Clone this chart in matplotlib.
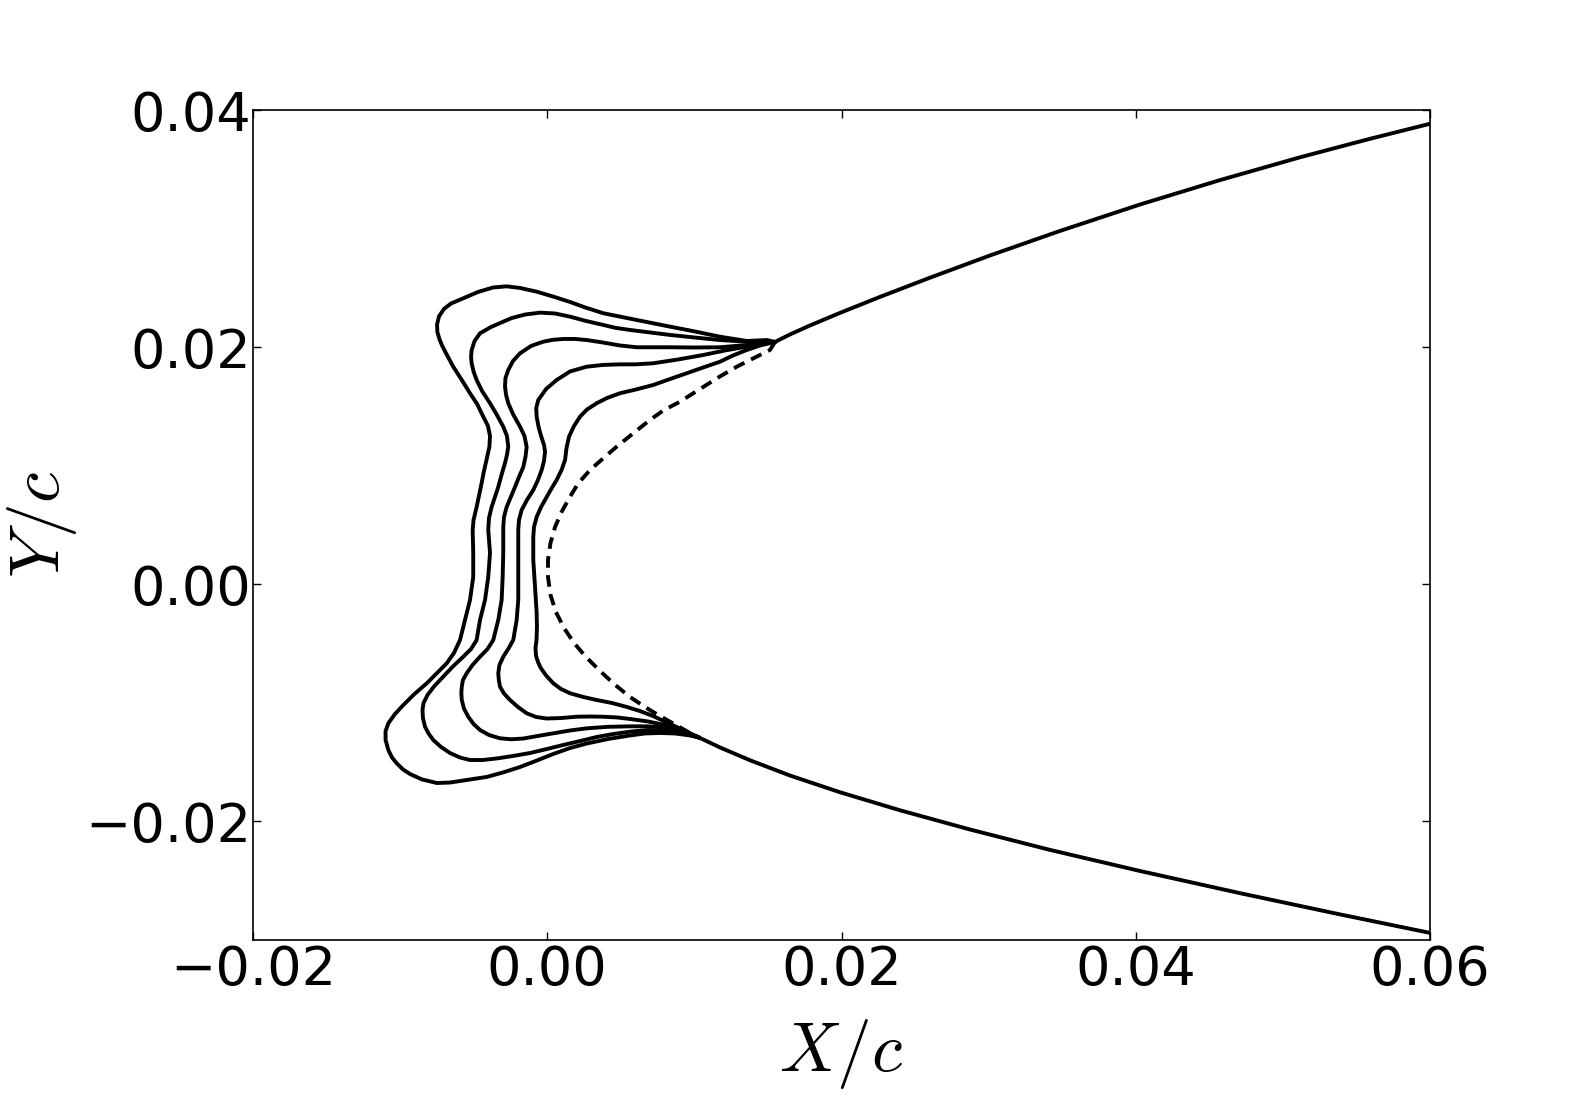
"""Ice accretion shapes on the leading edge, X/c vs Y/c."""

import matplotlib
matplotlib.use("Agg")
import matplotlib.pyplot as plt

plt.rcParams["mathtext.fontset"] = "cm"

# clean airfoil, solid part downstream of the iced region
UPPER_X = [0.01548, 0.01650, 0.01786, 0.01990, 0.02262, 0.02602, 0.03009, 0.03485,
           0.04029, 0.04573, 0.05116, 0.05592, 0.060]
UPPER_Y = [0.02044, 0.02107, 0.02183, 0.02289, 0.02424, 0.02586, 0.02773, 0.02980,
           0.03203, 0.03409, 0.03601, 0.03757, 0.03884]
LOWER_X = [0.01031, 0.01174, 0.01378, 0.01650, 0.01990, 0.02398, 0.02873, 0.03417,
           0.04029, 0.04709, 0.05388, 0.060]
LOWER_Y = [-0.01292, -0.01376, -0.01484, -0.01613, -0.01754, -0.01906, -0.02068, -0.02240,
           -0.02418, -0.02605, -0.02784, -0.02940]

# clean leading edge (dashed)
CLEAN_X = [0.01548, 0.01514, 0.01401, 0.01288, 0.01174, 0.01038, 0.00902, 0.00789, 0.00698,
           0.00585, 0.00472, 0.00381, 0.00291, 0.00211, 0.00155, 0.00098, 0.00053, 0.00022,
           0.00005, 0.00005, 0.00022, 0.00059, 0.00114, 0.00182, 0.00263, 0.00359, 0.00454,
           0.00562, 0.00664, 0.00766, 0.00875, 0.00970, 0.01031]
CLEAN_Y = [0.02044, 0.01976, 0.01906, 0.01835, 0.01753, 0.01647, 0.01540, 0.01466, 0.01386,
           0.01274, 0.01161, 0.01063, 0.00964, 0.00852, 0.00739, 0.00612, 0.00483, 0.00348,
           0.00205, 0.00062, -0.00090, -0.00234, -0.00369, -0.00495, -0.00613, -0.00731,
           -0.00841, -0.00950, -0.01035, -0.01111, -0.01187, -0.01254, -0.01292]

# ice shapes, largest (1) to smallest (5)
ICE1_X = [0.01548, 0.01494, 0.01356, 0.01174, 0.01004, 0.00834, 0.00608, 0.00381, 0.00257,
          0.00155, 0.00039, -0.00072, -0.00185, -0.00276, -0.00369, -0.00471, -0.00571,
          -0.00654, -0.00702, -0.00736, -0.00749, -0.00747, -0.00732, -0.00712, -0.00678,
          -0.00639, -0.00583, -0.00525, -0.00477, -0.00435, -0.00403, -0.00389, -0.00393,
          -0.00410, -0.00430, -0.00446, -0.00480, -0.00501, -0.00507, -0.00503, -0.00503,
          -0.00525, -0.00559, -0.00593, -0.00634, -0.00683, -0.00749, -0.00819, -0.00906,
          -0.00978, -0.01035, -0.01080, -0.01099, -0.01099, -0.01080, -0.01055, -0.01023,
          -0.00980, -0.00933, -0.00851, -0.00751, -0.00661, -0.00571, -0.00412, -0.00301,
          -0.00185, -0.00070, 0.00041, 0.00155, 0.00268, 0.00413, 0.00562, 0.00664, 0.00766,
          0.00868, 0.00970, 0.01031]
ICE1_Y = [0.02044, 0.02060, 0.02052, 0.02088, 0.02132, 0.02173, 0.02229, 0.02286, 0.02335,
          0.02381, 0.02427, 0.02468, 0.02499, 0.02513, 0.02503, 0.02465, 0.02412, 0.02368,
          0.02322, 0.02259, 0.02191, 0.02128, 0.02065, 0.02006, 0.01925, 0.01835, 0.01727,
          0.01611, 0.01521, 0.01414, 0.01335, 0.01251, 0.01161, 0.01065, 0.00956, 0.00854,
          0.00652, 0.00542, 0.00458, 0.00264, 0.00062, -0.00132, -0.00301, -0.00470,
          -0.00579, -0.00666, -0.00748, -0.00835, -0.00929, -0.01018, -0.01094, -0.01172,
          -0.01237, -0.01313, -0.01398, -0.01461, -0.01510, -0.01562, -0.01600, -0.01646,
          -0.01676, -0.01672, -0.01655, -0.01625, -0.01587, -0.01541, -0.01486, -0.01431,
          -0.01381, -0.01343, -0.01305, -0.01275, -0.01258, -0.01254, -0.01258, -0.01275,
          -0.01292]

ICE2_X = [0.01548, 0.01356, 0.01174, 0.01004, 0.00834, 0.00698, 0.00562, 0.00467, 0.00381,
          0.00263, 0.00155, 0.00053, -0.00049, -0.00151, -0.00240, -0.00299, -0.00382,
          -0.00457, -0.00494, -0.00514, -0.00518, -0.00514, -0.00501, -0.00480, -0.00443,
          -0.00389, -0.00342, -0.00299, -0.00274, -0.00265, -0.00274, -0.00287, -0.00311,
          -0.00333, -0.00378, -0.00396, -0.00401, -0.00389, -0.00401, -0.00423, -0.00457,
          -0.00480, -0.00518, -0.00571, -0.00641, -0.00707, -0.00770, -0.00814, -0.00841,
          -0.00848, -0.00845, -0.00831, -0.00807, -0.00775, -0.00722, -0.00661, -0.00593,
          -0.00525, -0.00437, -0.00344, -0.00233, -0.00117, -0.00002, 0.00109, 0.00223,
          0.00336, 0.00447, 0.00562, 0.00685, 0.00800, 0.00916, 0.01031]
ICE2_Y = [0.02044, 0.02046, 0.02060, 0.02081, 0.02103, 0.02124, 0.02145, 0.02162, 0.02187,
          0.02221, 0.02257, 0.02284, 0.02291, 0.02275, 0.02246, 0.02215, 0.02170, 0.02117,
          0.02052, 0.01976, 0.01917, 0.01864, 0.01795, 0.01723, 0.01630, 0.01527, 0.01428,
          0.01329, 0.01251, 0.01161, 0.01091, 0.01023, 0.00922, 0.00821, 0.00652, 0.00559,
          0.00458, 0.00264, 0.00062, -0.00132, -0.00301, -0.00470, -0.00546, -0.00611,
          -0.00693, -0.00779, -0.00862, -0.00934, -0.01001, -0.01060, -0.01128, -0.01201,
          -0.01258, -0.01313, -0.01372, -0.01423, -0.01461, -0.01482, -0.01482, -0.01469,
          -0.01448, -0.01423, -0.01389, -0.01355, -0.01322, -0.01288, -0.01263, -0.01243,
          -0.01229, -0.01233, -0.01254, -0.01292]

ICE3_X = [0.01548, 0.01356, 0.01174, 0.01004, 0.00834, 0.00608, 0.00494, 0.00379, 0.00268,
          0.00189, 0.00109, 0.00039, -0.00027, -0.00110, -0.00185, -0.00233, -0.00265,
          -0.00284, -0.00287, -0.00280, -0.00265, -0.00233, -0.00185, -0.00155, -0.00140,
          -0.00148, -0.00163, -0.00192, -0.00219, -0.00276, -0.00294, -0.00299, -0.00299,
          -0.00303, -0.00310, -0.00333, -0.00367, -0.00406, -0.00457, -0.00508, -0.00548,
          -0.00573, -0.00581, -0.00584, -0.00581, -0.00566, -0.00537, -0.00501, -0.00457,
          -0.00396, -0.00321, -0.00246, -0.00163, -0.00063, 0.00041, 0.00155, 0.00268,
          0.00413, 0.00562, 0.00685, 0.00800, 0.00916, 0.01031]
ICE3_Y = [0.02044, 0.02018, 0.01999, 0.01997, 0.01999, 0.01999, 0.02014, 0.02039, 0.02060,
          0.02069, 0.02069, 0.02062, 0.02046, 0.02010, 0.01948, 0.01883, 0.01807, 0.01740,
          0.01667, 0.01597, 0.01527, 0.01436, 0.01329, 0.01251, 0.01158, 0.01074, 0.00989,
          0.00905, 0.00821, 0.00652, 0.00568, 0.00483, 0.00264, 0.00062, -0.00132, -0.00301,
          -0.00470, -0.00546, -0.00611, -0.00681, -0.00751, -0.00807, -0.00864, -0.00917,
          -0.00976, -0.01048, -0.01117, -0.01178, -0.01229, -0.01271, -0.01299, -0.01307,
          -0.01301, -0.01279, -0.01257, -0.01233, -0.01215, -0.01202, -0.01198, -0.01198,
          -0.01208, -0.01237, -0.01292]

ICE4_X = [0.01548, 0.01446, 0.01356, 0.01208, 0.01061, 0.00889, 0.00721, 0.00603, 0.00494,
          0.00379, 0.00268, 0.00155, 0.00064, -0.00008, -0.00061, -0.00075, -0.00072,
          -0.00059, -0.00042, -0.00022, -0.00015, -0.00022, -0.00038, -0.00063, -0.00095,
          -0.00138, -0.00174, -0.00192, -0.00197, -0.00197, -0.00197, -0.00197, -0.00208,
          -0.00231, -0.00263, -0.00299, -0.00325, -0.00333, -0.00329, -0.00321, -0.00294,
          -0.00253, -0.00199, -0.00140, -0.00076, -0.00004, 0.00093, 0.00200, 0.00291,
          0.00381, 0.00474, 0.00562, 0.00685, 0.00800, 0.00916, 0.01031]
ICE4_Y = [0.02044, 0.02027, 0.02004, 0.01972, 0.01934, 0.01896, 0.01864, 0.01855, 0.01855,
          0.01850, 0.01835, 0.01795, 0.01723, 0.01647, 0.01554, 0.01487, 0.01414, 0.01327,
          0.01251, 0.01175, 0.01116, 0.01040, 0.00964, 0.00880, 0.00795, 0.00711, 0.00627,
          0.00542, 0.00458, 0.00264, 0.00062, -0.00132, -0.00301, -0.00470, -0.00541,
          -0.00611, -0.00681, -0.00751, -0.00807, -0.00864, -0.00921, -0.00976, -0.01035,
          -0.01088, -0.01119, -0.01132, -0.01128, -0.01117, -0.01115, -0.01117, -0.01123,
          -0.01136, -0.01157, -0.01187, -0.01233, -0.01292]

ICE5_X = [0.01548, 0.01446, 0.01356, 0.01263, 0.01174, 0.01059, 0.00948, 0.00834, 0.00721,
          0.00603, 0.00494, 0.00406, 0.00336, 0.00270, 0.00223, 0.00182, 0.00148, 0.00131,
          0.00121, 0.00097, 0.00064, 0.00029, -0.00004, -0.00042, -0.00072, -0.00090,
          -0.00095, -0.00095, -0.00083, -0.00072, -0.00070, -0.00073, -0.00080, -0.00076,
          -0.00063, -0.00046, -0.00008, 0.00041, 0.00093, 0.00155, 0.00243, 0.00336, 0.00440,
          0.00542, 0.00630, 0.00719, 0.00814, 0.00923, 0.01031]
ICE5_Y = [0.02044, 0.02014, 0.01976, 0.01930, 0.01877, 0.01828, 0.01780, 0.01731, 0.01681,
          0.01643, 0.01611, 0.01571, 0.01527, 0.01474, 0.01414, 0.01335, 0.01245, 0.01150,
          0.01048, 0.00964, 0.00880, 0.00808, 0.00736, 0.00652, 0.00568, 0.00483, 0.00399,
          0.00205, -0.00023, -0.00242, -0.00360, -0.00470, -0.00537, -0.00605, -0.00655,
          -0.00702, -0.00769, -0.00835, -0.00883, -0.00919, -0.00950, -0.00976, -0.01001,
          -0.01035, -0.01069, -0.01111, -0.01166, -0.01229, -0.01292]

ICE_SHAPES = [(ICE1_X, ICE1_Y), (ICE2_X, ICE2_Y), (ICE3_X, ICE3_Y),
              (ICE4_X, ICE4_Y), (ICE5_X, ICE5_Y)]

fig = plt.figure(figsize=(15.89, 11.06), dpi=100)
ax = fig.add_axes([253 / 1589, 166 / 1106, 1177 / 1589, 830 / 1106])

lw = 2.8
style = dict(color="k", linewidth=lw, solid_joinstyle="round", solid_capstyle="round")
ax.plot(UPPER_X, UPPER_Y, **style)
ax.plot(LOWER_X, LOWER_Y, **style)
ax.plot(CLEAN_X, CLEAN_Y, color="k", linewidth=lw, linestyle="--", dashes=(3.0, 1.9))
for xs, ys in ICE_SHAPES:
    ax.plot(xs, ys, **style)

ax.set_xlim(-0.02, 0.06)
ax.set_ylim(-0.03, 0.04)
ax.set_xticks([-0.02, 0.00, 0.02, 0.04, 0.06])
ax.set_yticks([-0.02, 0.00, 0.02, 0.04])
ax.tick_params(direction="in", top=True, right=True, length=6, width=1,
               labelsize=39, pad=1.5)
ax.tick_params(axis="x", pad=3)
for s in ax.spines.values():
    s.set_linewidth(1.2)

ax.set_xlabel(r"$X/c$", fontsize=50, labelpad=15)
ax.set_ylabel(r"$Y/c$", fontsize=50)
ax.yaxis.set_label_coords(-0.148, 0.5)

fig.savefig("out.png", dpi=100)
